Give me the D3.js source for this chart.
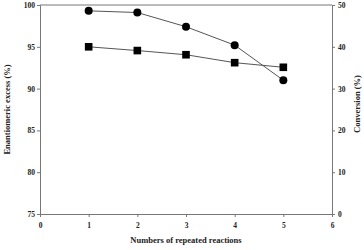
<!DOCTYPE html>
<html><head><meta charset="utf-8">
<script src="https://cdn.jsdelivr.net/npm/d3@7"></script>
<style>
html,body{margin:0;padding:0;background:#fff;}
svg text{font-family:"Liberation Serif","Times New Roman",serif;font-weight:bold;fill:#222;}
</style></head><body>
<svg id="c" width="364" height="250"></svg>
<script>
const runs = [1, 2, 3, 4, 5];
const eeValues = [99.3, 99.1, 97.4, 95.2, 91.0];
const conversionValues = [40.0, 39.1, 38.1, 36.2, 35.1];
const xTicks = [0, 1, 2, 3, 4, 5, 6];
const leftTicks = [75, 80, 85, 90, 95, 100];
const rightTicks = [0, 10, 20, 30, 40, 50];

const svg = d3.select("#c");
const L = 40, R = 332, T = 5, B = 214;
const x = d3.scaleLinear().domain([0, 6]).range([L, R]);
const yL = d3.scaleLinear().domain([75, 100]).range([B, T]);
const yR = d3.scaleLinear().domain([0, 50]).range([B, T]);
const ax = "#777";

// top frame
svg.append("line").attr("x1", L).attr("x2", R).attr("y1", T).attr("y2", T).attr("stroke", ax).attr("stroke-width", 1);

const gx = svg.append("g").attr("transform", `translate(0,${B})`)
  .call(d3.axisBottom(x).tickValues(xTicks).tickFormat(d3.format("d")).tickSize(3).tickPadding(6));
const gl = svg.append("g").attr("transform", `translate(${L},0)`)
  .call(d3.axisLeft(yL).tickValues(leftTicks).tickFormat(d3.format("d")).tickSize(3).tickPadding(2));
const gr = svg.append("g").attr("transform", `translate(${R},0)`)
  .call(d3.axisRight(yR).tickValues(rightTicks).tickFormat(d3.format("d")).tickSize(3).tickPadding(3));
[gx, gl, gr].forEach(g => {
  g.select(".domain").attr("stroke", ax).attr("stroke-width", 1);
  g.selectAll(".tick line").attr("stroke", ax);
  g.selectAll(".tick text").attr("font-size", 7.5).attr("fill", "#222")
    .style("font-family", '"Liberation Serif",serif').style("font-weight", "bold");
});

// lines
const lineEE = d3.line().x((d, i) => x(runs[i])).y(d => yL(d));
const lineCv = d3.line().x((d, i) => x(runs[i])).y(d => yR(d));
svg.append("path").attr("d", lineEE(eeValues)).attr("fill", "none").attr("stroke", "#555").attr("stroke-width", 1);
svg.append("path").attr("d", lineCv(conversionValues)).attr("fill", "none").attr("stroke", "#555").attr("stroke-width", 1);

svg.selectAll("circle.ee").data(eeValues).enter().append("circle")
  .attr("cx", (d, i) => x(runs[i])).attr("cy", d => yL(d)).attr("r", 4).attr("fill", "#000");
svg.selectAll("rect.cv").data(conversionValues).enter().append("rect")
  .attr("x", (d, i) => x(runs[i]) - 3.8).attr("y", d => yR(d) - 3.8)
  .attr("width", 7.6).attr("height", 7.6).attr("fill", "#000");

// titles
svg.append("text").attr("x", (L + R) / 2).attr("y", 243).attr("text-anchor", "middle")
  .attr("font-size", 8.5).text("Numbers of repeated reactions");
svg.append("text").attr("transform", `translate(10,${(T + B) / 2}) rotate(-90)`)
  .attr("text-anchor", "middle").attr("font-size", 8.5).text("Enantiomeric excess (%)");
svg.append("text").attr("transform", `translate(360,104) rotate(-90)`)
  .attr("text-anchor", "middle").attr("font-size", 8.5).text("Conversion (%)");
</script>
</body></html>
